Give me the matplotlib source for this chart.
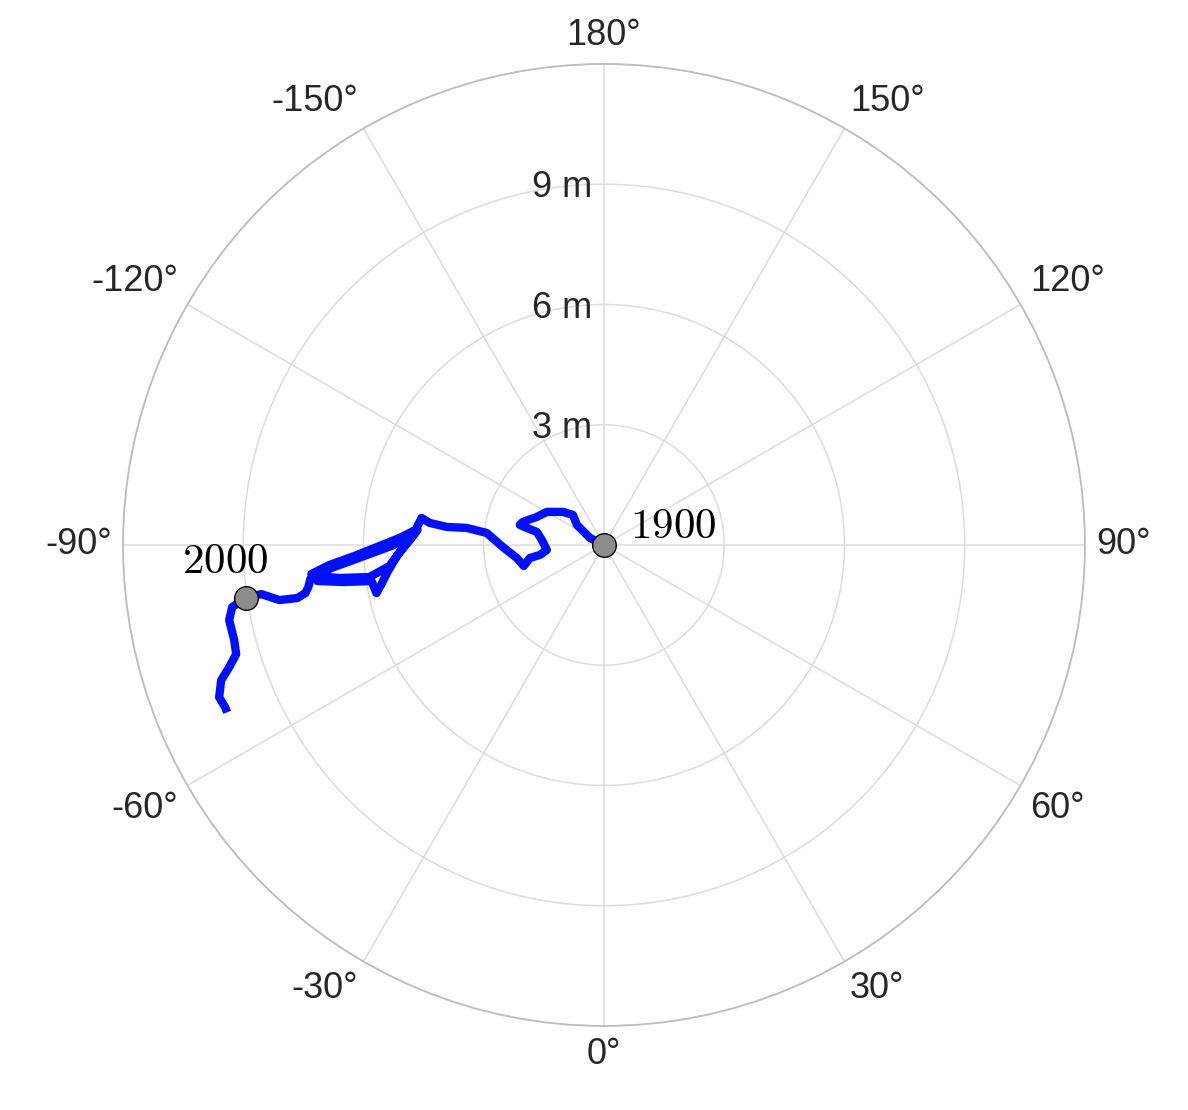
import numpy as np
import matplotlib
matplotlib.use("Agg")
import matplotlib.pyplot as plt

# Pole drift (x, y) in metres relative to the 1900 position
x_m = [0.0, -0.35, -0.675, -0.775, -1.025, -1.425, -1.675, -2.025, -2.1, -1.925,
       -1.675, -1.55, -1.425, -1.6, -1.85, -2.0, -2.175, -2.525, -2.925, -3.425,
       -3.925, -4.35, -4.55, -4.7, -5.1, -5.6, -6.225, -6.85, -7.3, -7.15,
       -6.475, -5.8, -5.675, -5.55, -5.4, -5.15, -4.8, -4.65, -5.15, -5.85,
       -6.6, -7.225, -6.6, -5.85, -5.35, -5.0, -4.8, -5.3, -6.05, -6.8,
       -7.325, -7.375, -7.45, -7.65, -8.1, -8.55, -8.925, -9.275, -9.35, -9.225,
       -9.175, -9.35, -9.55, -9.6, -9.45, -9.4]
y_m = [0.0, 0.175, 0.5, 0.75, 0.825, 0.825, 0.7, 0.575, 0.5, 0.425,
       0.325, 0.125, -0.125, -0.25, -0.325, -0.525, -0.325, -0.05, 0.3, 0.425,
       0.45, 0.55, 0.675, 0.375, 0.175, -0.025, -0.275, -0.5, -0.725, -0.9,
       -0.925, -0.9, -1.2, -0.975, -0.675, -0.25, 0.175, 0.375, 0.075, -0.175,
       -0.45, -0.775, -0.825, -0.8, -0.525, -0.05, 0.225, -0.025, -0.3, -0.575,
       -0.85, -1.05, -1.2, -1.325, -1.375, -1.225, -1.325, -1.55, -1.875, -2.375,
       -2.725, -3.05, -3.375, -3.8, -4.05, -4.175]
marker_idx = [0, 56]
marker_labels = ["1900", "2000"]

r_ticks = [3, 6, 9]
r_tick_labels = ["3 m", "6 m", "9 m"]
r_max = 12
theta_ticks = [0, 30, 60, 90, 120, 150, 180, 210, 240, 270, 300, 330]
theta_labels = ["0°", "30°", "60°", "90°", "120°", "150°", "180°",
                "-150°", "-120°", "-90°", "-60°", "-30°"]

plt.rcParams['font.family'] = ['Liberation Sans', 'DejaVu Sans']
plt.rcParams['mathtext.fontset'] = 'cm'

xa = np.array(x_m)
ya = np.array(y_m)
theta = np.arctan2(xa, -ya)
r = np.hypot(xa, ya)

fig = plt.figure(figsize=(11.88, 11.10), dpi=100)
ax = fig.add_axes([0.1035, 0.0757, 0.8098, 0.8667], projection='polar')
ax.set_theta_zero_location('S')
ax.set_theta_direction(1)

ax.plot(theta, r, color='#0010ff', lw=6, solid_capstyle='butt',
        solid_joinstyle='round', zorder=3)
ax.plot(theta[marker_idx], r[marker_idx], 'o', ms=17, mfc='#8c8c8c',
        mec='black', mew=1.0, zorder=4)

ax.annotate(r'$' + marker_labels[0] + '$', (theta[0], r[0]),
            xytext=(19, 13), textcoords='offset points', ha='left', va='center',
            fontsize=31, zorder=5)
ax.annotate(r'$' + marker_labels[1] + '$', (theta[56], r[56]),
            xytext=(-15, 26), textcoords='offset points', ha='center', va='center',
            fontsize=31, zorder=5)

ax.set_ylim(0, r_max)
ax.set_yticks(r_ticks + [r_max])
ax.set_yticklabels([])
for rv, lab in zip(r_ticks, r_tick_labels):
    ax.annotate(lab, (np.pi, rv), xytext=(-8.6, -9.4), textcoords='offset points',
                ha='right', va='baseline', fontsize=26, color='#262626')

ax.set_xticks(np.deg2rad(theta_ticks))
ax.set_xticklabels([])
ax.tick_params(axis='x', length=0)
pad_pt = 8.0
for deg, lab in zip(theta_ticks, theta_labels):
    t = np.deg2rad(deg)
    sx = np.sin(t)
    sy = -np.cos(t)
    ha = 'left' if sx > 0.05 else ('right' if sx < -0.05 else 'center')
    va = 'bottom' if sy > 0.05 else ('top' if sy < -0.05 else 'center')
    ax.annotate(lab, (t, r_max), xytext=(pad_pt * sx, pad_pt * sy),
                textcoords='offset points', ha=ha, va=va, fontsize=26,
                color='#262626', annotation_clip=False)

ax.grid(True, color='#dcdcdc', lw=1.1)
ax.spines['polar'].set_color('#bdbdbd')
ax.spines['polar'].set_linewidth(1.3)

fig.savefig('out.png', dpi=100, facecolor='white')
